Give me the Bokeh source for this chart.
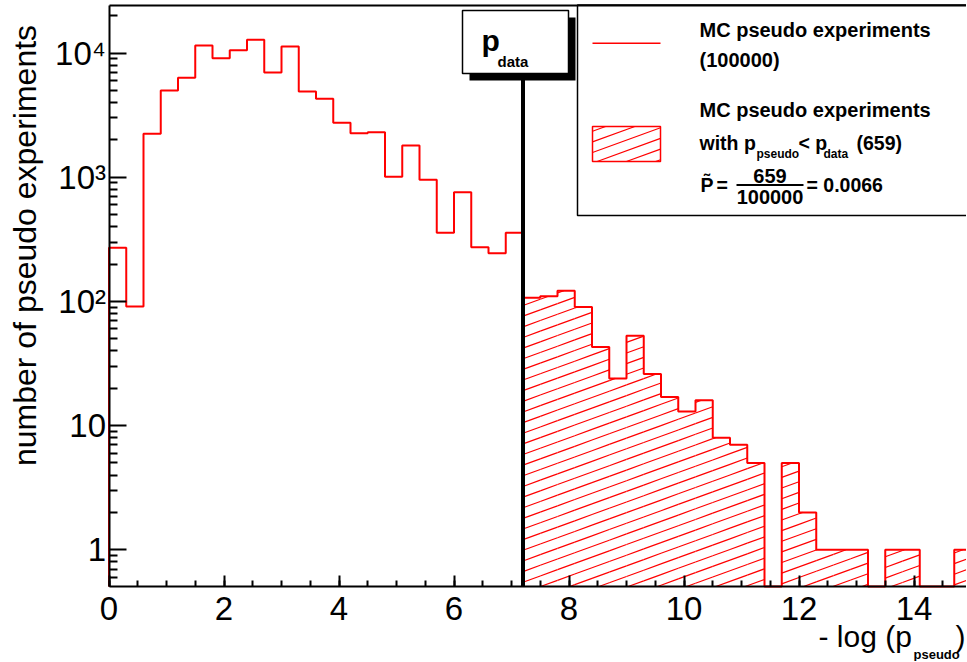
import math
from bokeh.plotting import figure
from bokeh.models import Range1d, FixedTicker, LinearAxis, Label
from bokeh.embed import file_html
from bokeh.resources import INLINE

# ---------------- data ----------------
BIN_WIDTH = 0.3
counts = [270, 91, 2240, 4990, 6310, 11500, 9080, 10500, 12800, 6970,
          11300, 4900, 4280, 2740, 2260, 2300, 1010, 1800, 953, 357,
          757, 273, 244, 357, 107, 110, 122, 90, 43, 24,
          53, 26, 17, 13, 16, 8, 7, 5, 0, 5,
          2, 1, 1, 1, 0, 1, 1, 0, 0, 1]
P_DATA = 7.2
N_TOTAL = 100000
N_BELOW = 659
P_TILDE = "0.0066"
x_ticks = [0, 2, 4, 6, 8, 10, 12, 14]
x_tick_labels = ["0", "2", "4", "6", "8", "10", "12", "14"]
y_ticks = [1, 10, 100, 1000, 10000]
y_tick_labels = ["1", "10", "10\u00b2", "10\u00b3", "10\u2074"]

# ---------------- layout (pixels) ----------------
W, H = 966, 661
X_PX0 = 108.5      # pixel column of x = 0
X_PPU = 57.5       # pixels per x unit
Y_PX1 = 549.3      # pixel row of y = 1
Y_PPD = 124.2      # pixels per decade
FRAME_TOP_PX, FRAME_BOTTOM_PX = 4.5, 586.0
FONT = "Liberation Sans"
RED = "#ff0000"
BASE_FIX = 0.28    # Label baseline correction (fraction of font size)


def to_dx(px):
    return (px - X_PX0) / X_PPU


def to_dy(py):
    return 10 ** ((Y_PX1 - py) / Y_PPD)


def from_dx(x):
    return X_PX0 + x * X_PPU


def from_dy(y):
    return Y_PX1 - Y_PPD * math.log10(y)


Y_MIN = to_dy(FRAME_BOTTOM_PX)
Y_MAX = to_dy(FRAME_TOP_PX)
X_MAX = len(counts) * BIN_WIDTH

HATCH_ANGLE = 20.0
HATCH_SPACING = 10.0
T = math.tan(math.radians(HATCH_ANGLE))
SV = HATCH_SPACING / math.cos(math.radians(HATCH_ANGLE))
PHASE = FRAME_BOTTOM_PX + T * 540


def hatch(x0, x1, y0, y1):
    segs = []
    cmin = y0 + T * x0
    cmax = y1 + T * x1
    k0 = math.floor((cmin - PHASE) / SV) - 1
    k1 = math.ceil((cmax - PHASE) / SV) + 1
    for k in range(k0, k1 + 1):
        c = PHASE + k * SV
        lo = max(x0, (c - y1) / T)
        hi = min(x1, (c - y0) / T)
        if hi - lo > 0.05:
            segs.append(([to_dx(lo), to_dx(hi)], [to_dy(c - T * lo), to_dy(c - T * hi)]))
    return segs


p = figure(width=W, height=H, x_range=Range1d(to_dx(0), to_dx(W)),
           y_range=Range1d(to_dy(H), to_dy(0)),
           y_axis_type="log", output_backend="svg", toolbar_location=None)
p.min_border = 0
p.min_border_left = 0
p.min_border_right = 0
p.min_border_top = 0
p.min_border_bottom = 0
p.outline_line_color = None
p.grid.visible = False
p.background_fill_color = "white"
p.border_fill_color = "white"

# axes
x_minor = [i * 0.5 for i in range(0, 31)]
y_minor = [m * 10 ** d for d in range(-1, 5) for m in range(2, 10)]
y_minor = [t for t in y_minor if Y_MIN <= t <= Y_MAX]

xa = p.xaxis[0]
xa.fixed_location = Y_MIN
xa.bounds = (0, X_MAX)
xa.ticker = FixedTicker(ticks=x_ticks, minor_ticks=x_minor)
xa.major_label_overrides = {t: s for t, s in zip(x_ticks, x_tick_labels)}
ya = p.yaxis[0]
ya.fixed_location = 0
ya.bounds = (Y_MIN, Y_MAX)
ya.ticker = FixedTicker(ticks=y_ticks, minor_ticks=y_minor)
ya.major_label_overrides = {t: s for t, s in zip(y_ticks, y_tick_labels)}
for ax, tin, mtin in ((xa, 11, 6), (ya, 17, 8)):
    ax.axis_line_width = 2
    ax.major_tick_line_width = 2
    ax.minor_tick_line_width = 2
    ax.major_tick_in = tin
    ax.major_tick_out = 0
    ax.minor_tick_in = mtin
    ax.minor_tick_out = 0
    ax.major_label_text_font = FONT
    ax.major_label_text_font_size = "33px"
    ax.major_label_text_color = "black"
    ax.axis_line_color = "black"
    ax.major_tick_line_color = "black"
    ax.minor_tick_line_color = "black"
xa.major_label_standoff = 10
ya.major_label_standoff = 3

top = LinearAxis(ticker=FixedTicker(ticks=[]), axis_line_width=2, major_tick_in=0,
                 major_tick_out=0, minor_tick_in=0, minor_tick_out=0,
                 major_label_standoff=0, major_label_text_font_size="0px",
                 fixed_location=Y_MAX, bounds=(0, X_MAX))
p.add_layout(top, "above")

# histogram envelope
edges = [i * BIN_WIDTH for i in range(len(counts) + 1)]
hx, hy = [edges[0]], [Y_MIN]
for i, c in enumerate(counts):
    v = c if c > 0 else Y_MIN
    hx += [edges[i], edges[i + 1]]
    hy += [v, v]
hx.append(edges[-1])
hy.append(Y_MIN)

# hatch of bins with p_pseudo < p_data
hxs, hys = [], []
for i, c in enumerate(counts):
    if edges[i] >= P_DATA - 1e-9 and c > 0:
        for sx, sy in hatch(from_dx(edges[i]), from_dx(edges[i + 1]), from_dy(c), FRAME_BOTTOM_PX):
            hxs.append(sx)
            hys.append(sy)
p.multi_line(xs=hxs, ys=hys, line_color=RED, line_width=1.2)
p.line(hx, hy, line_color=RED, line_width=2)

# p_data marker
p.segment(x0=[P_DATA], y0=[Y_MIN], x1=[P_DATA], y1=[to_dy(60)], line_color="black", line_width=4)
p.quad(left=[to_dx(469)], right=[to_dx(575)], top=[to_dy(17)], bottom=[to_dy(80)],
       fill_color="black", line_color=None)
p.quad(left=[to_dx(462)], right=[to_dx(568)], top=[to_dy(10)], bottom=[to_dy(73)],
       fill_color="white", line_color="black", line_width=1.5)

# legend box
p.quad(left=[to_dx(577)], right=[X_MAX + 2], top=[Y_MAX], bottom=[to_dy(215)],
       fill_color="white", line_color="black", line_width=1.5)
p.line([to_dx(592), to_dx(660)], [to_dy(42.7)] * 2, line_color=RED, line_width=1.5)
lhx, lhy = [], []
for sx, sy in hatch(592, 660, 126, 161):
    lhx.append(sx)
    lhy.append(sy)
p.multi_line(xs=lhx, ys=lhy, line_color=RED, line_width=1.2)
p.quad(left=[to_dx(592)], right=[to_dx(660)], top=[to_dy(126)], bottom=[to_dy(161)],
       fill_color=None, line_color=RED, line_width=1.5)


def lab(text, px, py, size, bold=True, align="left", angle=0.0):
    if angle:
        px = px - BASE_FIX * size
    else:
        py = py - BASE_FIX * size
    p.add_layout(Label(x=to_dx(px), y=to_dy(py), text=text, text_font=FONT,
                       text_font_size=f"{size}px",
                       text_font_style="bold" if bold else "normal",
                       text_align=align, text_baseline="alphabetic", angle=angle,
                       text_color="black"))


lab("p", 481, 48, 30)
lab("data", 497, 65, 15)

lab("MC pseudo experiments", 699, 35.5, 20)
lab(f"({N_TOTAL})", 699, 65, 20)
lab("MC pseudo experiments", 699, 115, 20)
lab("with p", 699, 148, 19.5)
lab("pseudo", 756, 157, 12)
lab("< p", 798, 148, 19.5)
lab("data", 823, 157, 12)
lab(f"({N_BELOW})", 856, 148, 19.5)
lab("P\u0303", 700, 190, 19.5)
lab("=", 716, 190, 19.5)
lab(f"{N_BELOW}", 769.5, 181.5, 20, align="center")
lab(f"{N_TOTAL}", 769.5, 202.5, 20, align="center")
p.line([to_dx(736), to_dx(803)], [to_dy(184.5)] * 2, line_color="black", line_width=2)
lab(f"= {P_TILDE}", 806, 190, 19.5)

# axis titles
lab("number of pseudo experiments", 33.5, 245, 32, bold=False, align="center", angle=math.pi / 2)
lab("- log (p", 818, 644, 30, bold=False)
lab("pseudo", 913, 657.5, 13)
lab(")", 955, 644, 30, bold=False)

open("out.html", "w").write(file_html(p, INLINE))
